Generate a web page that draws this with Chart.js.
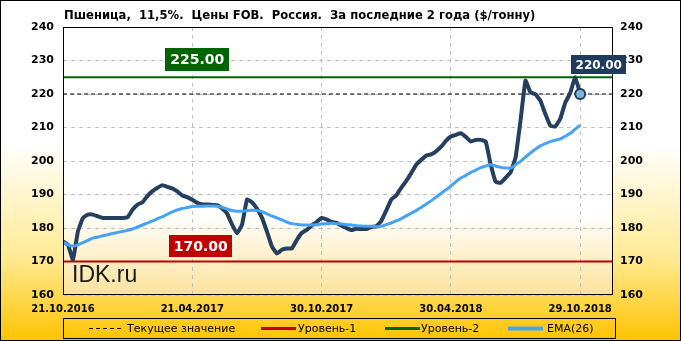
<!DOCTYPE html>
<html>
<head>
<meta charset="utf-8">
<script src="https://cdn.jsdelivr.net/npm/chart.js@4/dist/chart.umd.min.js"></script>
<style>
  html, body { margin: 0; padding: 0; background: #fff; }
  #wrap { width: 681px; height: 341px; }
</style>
</head>
<body>
<div id="wrap"><canvas id="chart" width="681" height="341"></canvas></div>
<script>
// weekly prices, 21.10.2016 .. 29.10.2018
const priceValues = [
  176, 175, 170.5, 179, 183, 184, 184, 183.5, 183, 183,
  183, 183, 183, 183.2, 185.5, 187, 187.7, 189.6, 191, 192,
  192.8, 192.3, 191.8, 190.9, 189.7, 189.2, 188.4, 187.5, 187, 187,
  186.9, 186.8, 185.8, 184.3, 181, 178.4, 181, 188.5, 187.7, 185.8,
  183.1, 179, 174.5, 172.4, 173.5, 173.9, 173.9, 176.4, 178.5, 179.4,
  180.7, 181.8, 183, 182.6, 181.8, 181.5, 180.7, 180, 179.4, 179.8,
  179.7, 179.7, 180.3, 180.5, 182.1, 185.2, 188.5, 189.7, 192, 194,
  196.3, 198.8, 200.3, 201.6, 202, 202.9, 204.2, 206, 207.3, 207.8,
  208.3, 207.2, 205.8, 206.3, 206.3, 205.8, 199, 193.8, 193.5, 195,
  196.6, 201, 212, 224, 220.5, 219.9, 218, 214, 210.5, 210.3,
  212.6, 217.4, 220.3, 225, 220
];
const emaValues = [
  175.8, 175.0, 174.6, 175.0, 175.6, 176.3, 177.0, 177.3, 177.7, 178.0,
  178.4, 178.7, 179.0, 179.3, 179.7, 180.3, 180.9, 181.5, 182.1, 182.8,
  183.4, 184.1, 184.8, 185.4, 185.8, 186.1, 186.4, 186.5, 186.5, 186.6,
  186.6, 186.5, 186.2, 185.7, 185.2, 185.0, 185.0, 185.2, 185.3, 185.2,
  184.9, 184.2, 183.6, 183.0, 182.4, 181.8, 181.3, 181.1, 180.9, 180.9,
  180.9, 181.0, 181.2, 181.3, 181.4, 181.3, 181.2, 181.0, 180.9, 180.7,
  180.6, 180.5, 180.5, 180.4, 180.5, 181.0, 181.5, 182.1, 182.8, 183.6,
  184.4, 185.2, 186.1, 187.1, 188.1, 189.2, 190.3, 191.4, 192.5, 193.8,
  194.9, 195.7, 196.6, 197.3, 198.0, 198.5, 198.9, 198.5, 198.1, 197.9,
  197.9, 198.9, 199.9, 201.2, 202.4, 203.5, 204.5, 205.2, 205.8, 206.2,
  206.6, 207.4, 208.3, 209.5, 210.7
];
const tickWeeks = [0, 26, 52, 78, 104];
const tickLabels = ['21.10.2016', '21.04.2017', '30.10.2017', '30.04.2018', '29.10.2018'];
const level1 = 170;
const level2 = 225;
const currentValue = 220;
const yMin = 160, yMax = 240, yStep = 10;
const xMax = 110.6;

const TITLE = 'Пшеница,  11,5%.  Цены FOB.  Россия.  За последние 2 года ($/тонну)';
const FONT = '"DejaVu Sans", Verdana, sans-serif';

const lastIdx = priceValues.length - 1;
const toPoints = arr => arr.map((v, i) => ({ x: i, y: v }));
const flat = v => [{ x: 0, y: v }, { x: xMax, y: v }];

function tag(ctx, text, cx, cy, w, h, bg, font) {
  ctx.fillStyle = bg;
  ctx.fillRect(Math.round(cx - w / 2), Math.round(cy - h / 2), w, h);
  ctx.fillStyle = '#FFFFFF';
  ctx.font = font;
  ctx.textAlign = 'center';
  ctx.textBaseline = 'middle';
  ctx.fillText(text, cx, cy + 1);
}

const decor = {
  id: 'decor',
  beforeDraw(chart) {
    const { ctx, width, height, chartArea: a } = chart;
    ctx.save();
    let g = ctx.createLinearGradient(0, 0, 0, height);
    g.addColorStop(0, '#FFFFFF');
    g.addColorStop(0.42, '#FFFFFF');
    g.addColorStop(0.75, '#FFEB95');
    g.addColorStop(1, '#FFC300');
    ctx.fillStyle = g;
    ctx.fillRect(0, 0, width, height);
    g = ctx.createLinearGradient(0, a.top, 0, a.bottom);
    g.addColorStop(0, '#FFFFFF');
    g.addColorStop(0.7, '#FFFFFF');
    g.addColorStop(1, '#FBE29A');
    ctx.fillStyle = g;
    ctx.fillRect(a.left, a.top, a.width, a.height);
    ctx.restore();
  },
  afterDraw(chart) {
    const { ctx, width, height, chartArea: a } = chart;
    const xs = chart.scales.x, ys = chart.scales.y;
    ctx.save();

    // plot frame
    ctx.strokeStyle = '#000';
    ctx.lineWidth = 1;
    ctx.strokeRect(Math.round(a.left) + 0.5, Math.round(a.top) + 0.5,
      Math.round(a.width) - 1, Math.round(a.height) - 1);

    // level tags
    tag(ctx, level2.toFixed(2), xs.getPixelForValue(27) , ys.getPixelForValue(level2) - 17.5, 64, 23, '#006400', 'bold 14px ' + FONT);
    tag(ctx, level1.toFixed(2), xs.getPixelForValue(27.7), ys.getPixelForValue(level1) - 15.5, 63, 22, '#C00000', 'bold 14px ' + FONT);
    const lx = xs.getPixelForValue(lastIdx), ly = ys.getPixelForValue(priceValues[lastIdx]);
    tag(ctx, currentValue.toFixed(2), lx + 18.5, ly - 29.5, 55, 19, '#1F3A5F', 'bold 12px ' + FONT);

    // title
    ctx.fillStyle = '#000';
    ctx.font = 'bold 11.6px ' + FONT;
    ctx.textAlign = 'left';
    ctx.textBaseline = 'alphabetic';
    ctx.fillText(TITLE, a.left + 1, 19);

    // watermark
    ctx.fillStyle = '#1A1A1A';
    ctx.font = '23px "Liberation Sans", Arial, sans-serif';
    ctx.fillText('IDK.ru', a.left + 9, 282);

    // legend
    const ly0 = 318, lh = 20, lmid = ly0 + lh / 2;
    ctx.strokeStyle = '#000';
    ctx.lineWidth = 1;
    ctx.strokeRect(a.left + 0.5, ly0 + 0.5, 552, lh);
    const items = [
      { x: 89, text: 'Текущее значение', color: '#000', w: 1, dash: [4, 3], tx: 127 },
      { x: 261, text: 'Уровень-1', color: '#C00000', w: 3, dash: [], tx: 298 },
      { x: 385, text: 'Уровень-2', color: '#006400', w: 3, dash: [], tx: 421 },
      { x: 508, text: 'EMA(26)', color: '#45A2F5', w: 4, dash: [], tx: 547 }
    ];
    ctx.font = '11px ' + FONT;
    ctx.textBaseline = 'middle';
    items.forEach(it => {
      ctx.beginPath();
      ctx.setLineDash(it.dash);
      ctx.strokeStyle = it.color;
      ctx.lineWidth = it.w;
      ctx.moveTo(it.x, lmid + 0.5);
      ctx.lineTo(it.x + 35, lmid + 0.5);
      ctx.stroke();
      ctx.setLineDash([]);
      ctx.fillStyle = '#000';
      ctx.fillText(it.text, it.tx, lmid + 1);
    });

    // outer frame
    ctx.strokeStyle = '#000';
    ctx.lineWidth = 1;
    ctx.strokeRect(0.5, 0.5, width - 1, height - 1);
    ctx.restore();
  }
};

const gridOpts = { color: '#BFBFBF', drawTicks: false };
const borderOpts = { display: false, dash: [4, 4] };
const tickFont = { family: FONT, size: 11, weight: 'bold' };

new Chart(document.getElementById('chart'), {
  type: 'line',
  data: {
    datasets: [
      {
        label: 'EMA(26)',
        data: toPoints(emaValues),
        borderColor: '#45A2F5',
        borderWidth: 3,
        pointRadius: 0,
        cubicInterpolationMode: 'monotone',
        order: 0
      },
      {
        label: 'Цена',
        data: toPoints(priceValues),
        borderColor: '#253F5E',
        borderWidth: 4,
        tension: 0.1,
        pointRadius: ctx => (ctx.dataIndex === lastIdx ? 5 : 0),
        pointBackgroundColor: '#7DB8DB',
        pointBorderColor: '#1F3A5F',
        pointBorderWidth: 2,
        order: 1
      },
      {
        label: 'Текущее значение',
        data: flat(currentValue),
        borderColor: '#000',
        borderWidth: 1,
        borderDash: [4, 3],
        pointRadius: 0,
        order: 2
      },
      {
        label: 'Уровень-2',
        data: flat(level2),
        borderColor: '#006400',
        borderWidth: 2,
        pointRadius: 0,
        order: 3
      },
      {
        label: 'Уровень-1',
        data: flat(level1),
        borderColor: '#C00000',
        borderWidth: 2,
        pointRadius: 0,
        order: 4
      }
    ]
  },
  options: {
    responsive: false,
    animation: false,
    layout: { padding: { top: 27, left: 0, right: 0, bottom: 0 } },
    plugins: { legend: { display: false }, tooltip: { enabled: false }, title: { display: false } },
    scales: {
      x: {
        type: 'linear',
        min: 0,
        max: xMax,
        grid: gridOpts,
        border: borderOpts,
        afterBuildTicks: s => { s.ticks = tickWeeks.map(v => ({ value: v })); },
        afterFit: s => { s.height = 46; },
        ticks: {
          color: '#000',
          font: { family: FONT, size: 10, weight: 'bold' },
          padding: 8,
          maxRotation: 0,
          autoSkip: false,
          callback: v => tickLabels[tickWeeks.indexOf(v)]
        }
      },
      y: {
        position: 'left',
        min: yMin,
        max: yMax,
        grid: gridOpts,
        border: borderOpts,
        afterFit: s => { s.width = 63; },
        ticks: { stepSize: yStep, color: '#000', font: tickFont, padding: 9 }
      },
      y2: {
        position: 'right',
        min: yMin,
        max: yMax,
        grid: { display: false, drawTicks: false },
        border: { display: false },
        afterFit: s => { s.width = 68; },
        ticks: { stepSize: yStep, color: '#000', font: tickFont, padding: 7 }
      }
    }
  },
  plugins: [decor]
});
</script>
</body>
</html>
